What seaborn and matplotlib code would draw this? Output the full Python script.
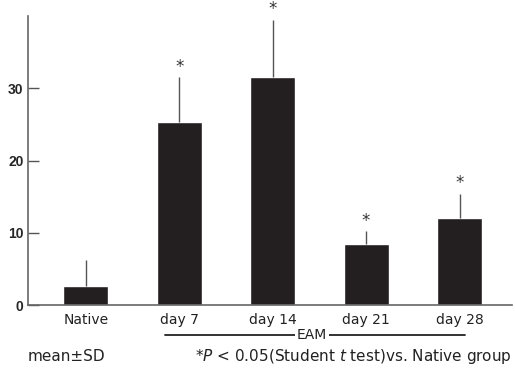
import numpy as np
import pandas as pd
import seaborn as sns
import matplotlib.pyplot as plt
import matplotlib.transforms as mtransforms

# values
groups = ['Native', 'day 7', 'day 14', 'day 21', 'day 28']
means = [2.6, 25.3, 31.5, 8.4, 12.0]
sds = [3.6, 6.2, 8.0, 1.8, 3.4]
signif = ['', '*', '*', '*', '*']

df = pd.DataFrame({'group': groups, 'mean': means})

sns.set_style('ticks')
plt.rcParams['font.family'] = ['DejaVu Sans', 'Noto Sans CJK JP']

fig = plt.figure(figsize=(5.15, 3.73), dpi=100)
ax = fig.add_axes([0.054, 0.182, 0.94, 0.775])

sns.barplot(data=df, x='group', y='mean', color='#231f20', width=0.48,
            errorbar=None, saturation=1, ax=ax)
ax.errorbar(np.arange(len(groups)), means, yerr=[np.zeros(len(sds)), sds],
            fmt='none', ecolor='#555555', elinewidth=1.0, capsize=0)

for i, (m, s, t) in enumerate(zip(means, sds, signif)):
    if t:
        ax.text(i, m + s + 1.5, t, ha='center', va='center', fontsize=12,
                color='#333333', clip_on=False)

ax.set_xlim(-0.62, 4.56)
ax.set_ylim(0, 40)
ax.set_yticks([0, 10, 20, 30])
ax.set_yticklabels(['0', '10', '20', '30'], fontweight='bold', fontsize=10,
                   family='Liberation Sans')
ax.tick_params(axis='y', direction='in', length=8, width=1, color='#555555', pad=3)
ax.tick_params(axis='x', length=0, labelsize=10, pad=6, colors='#222222')
ax.set_xlabel('')
ax.set_ylabel('')
sns.despine(ax=ax)
for sp in ['left', 'bottom']:
    ax.spines[sp].set_color('#666666')
    ax.spines[sp].set_linewidth(1.2)

# EAM bracket under day 7 .. day 28
tr = mtransforms.blended_transform_factory(ax.transData, ax.transAxes)
ax.plot([0.85, 4.06], [-0.104, -0.104], transform=tr, color='#222222', lw=1.3, clip_on=False)
ax.text(2.42, -0.104, 'EAM', transform=tr, ha='center', va='center', fontsize=10,
        color='#222222', bbox=dict(facecolor='white', edgecolor='none', pad=1.5))

fig.text(0.054, 0.043, 'mean\u00b1SD', ha='left', va='center',
         fontsize=11, color='#222222')
fig.text(0.994, 0.043, '*$P$ < 0.05(Student $t$ test)vs. Native group',
         ha='right', va='center', fontsize=11, color='#222222')

fig.savefig('out.png', dpi=100)
